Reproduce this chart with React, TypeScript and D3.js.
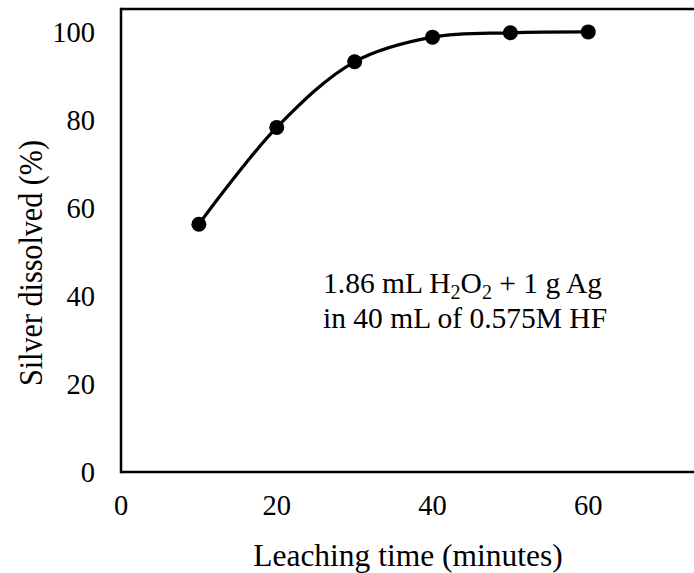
import React from 'react';
import * as d3 from 'd3';

// leaching curve
const times = [10, 20, 30, 40, 50, 60];
const dissolved = [56.3, 78.3, 93.2, 98.8, 99.8, 100];
const xTicks = [0, 20, 40, 60];
const yTicks = [0, 20, 40, 60, 80, 100];
const noteLine2 = 'in 40 mL of 0.575M HF';

const W = 694;
const H = 573;
const margin = { left: 121, top: 9, bottom: 101 };
const font = "'Liberation Serif', serif";

const App = () => {
    const x = d3.scaleLinear().domain([0, 80]).range([margin.left, margin.left + 623]);
    const y = d3.scaleLinear().domain([0, 105.2]).range([H - margin.bottom, margin.top]);

    const pts = times.map((t, i) => [x(t), y(dissolved[i])] as [number, number]);
    const line = d3.line().curve(d3.curveCatmullRom.alpha(0.5));

    const x0 = x(0);
    const x1 = x(80);
    const yBot = y(0);
    const yTop = margin.top;

    return (
        <svg width={W} height={H} style={{ position: 'absolute', left: 0, top: 0, background: '#fff', fontFamily: font }}>
            <rect width={W} height={H} fill="#fff" />
            {/* frame */}
            <line x1={x0} x2={x1} y1={yTop} y2={yTop} stroke="#000" strokeWidth={2.5} />
            <line x1={x0} x2={x1} y1={yBot} y2={yBot} stroke="#000" strokeWidth={2.5} />
            <line x1={x0} x2={x0} y1={yTop - 1.25} y2={yBot + 1.25} stroke="#000" strokeWidth={2.5} />

            {yTicks.map(v => (
                <text key={v} x={95} y={y(v)} dy="0.35em" textAnchor="end"
                    style={{ fontFamily: font }} fontSize={28.5} fill="#000">{v}</text>
            ))}
            {xTicks.map(v => (
                <text key={v} x={x(v)} y={515} textAnchor="middle"
                    style={{ fontFamily: font }} fontSize={28.5} fill="#000">{v}</text>
            ))}

            <text x={408} y={566} textAnchor="middle" style={{ fontFamily: font }} fontSize={31.5} fill="#000">
                Leaching time (minutes)
            </text>
            <text transform="translate(42,263) rotate(-90)" textAnchor="middle"
                textLength={246} lengthAdjust="spacingAndGlyphs"
                style={{ fontFamily: font }} fontSize={33} fill="#000">
                Silver dissolved (%)
            </text>

            <path d={line(pts) ?? ''} fill="none" stroke="#000" strokeWidth={3.2} />
            {pts.map((p, i) => (
                <circle key={i} cx={p[0]} cy={p[1]} r={7.5} fill="#000" />
            ))}

            <text x={323} y={293} style={{ fontFamily: font }} fontSize={29.5} fill="#000">
                1.86 mL H<tspan dy={6} fontSize={20}>2</tspan><tspan dy={-6}>O</tspan><tspan dy={6} fontSize={20}>2</tspan><tspan dy={-6}> + 1 g Ag</tspan>
            </text>
            <text x={323} y={328} style={{ fontFamily: font }} fontSize={29.5} fill="#000">
                {noteLine2}
            </text>
        </svg>
    );
};

export default App;
